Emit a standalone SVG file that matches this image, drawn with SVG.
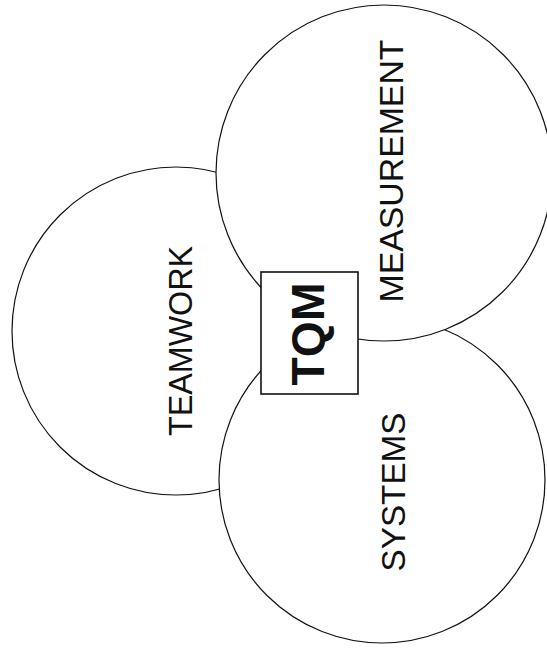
<svg xmlns="http://www.w3.org/2000/svg" width="547" height="651" viewBox="0 0 547 651">
<style>
.c{fill:#fff;stroke:#111;stroke-width:1.2}
.b{fill:#fff;stroke:#111;stroke-width:1.6}
.t{font-family:"Liberation Sans",Arial,sans-serif;font-size:34px;fill:#111;text-anchor:middle}
.q{font-family:"Liberation Sans",Arial,sans-serif;font-size:47px;font-weight:bold;fill:#111;text-anchor:middle}
</style>
<rect width="547" height="651" fill="#fff"/>
<g id="teamwork">
<circle class="c" cx="176" cy="331" r="164"/>
<text class="t" transform="translate(192,341) rotate(-90)" textLength="190" lengthAdjust="spacingAndGlyphs">TEAMWORK</text>
</g>
<g id="systems">
<circle class="c" cx="382" cy="480" r="163"/>
<text class="t" transform="translate(405,492) rotate(-90)" textLength="159" lengthAdjust="spacingAndGlyphs">SYSTEMS</text>
</g>
<g id="measurement">
<circle class="c" cx="384" cy="173" r="168"/>
<text class="t" transform="translate(403,171) rotate(-90)" textLength="263" lengthAdjust="spacingAndGlyphs">MEASUREMENT</text>
</g>
<g id="tqm">
<rect class="b" x="261" y="272" width="97" height="122"/>
<text class="q" transform="translate(324,334) rotate(-90)" textLength="103" lengthAdjust="spacingAndGlyphs">TQM</text>
</g>
<g id="connectors"></g>
</svg>
